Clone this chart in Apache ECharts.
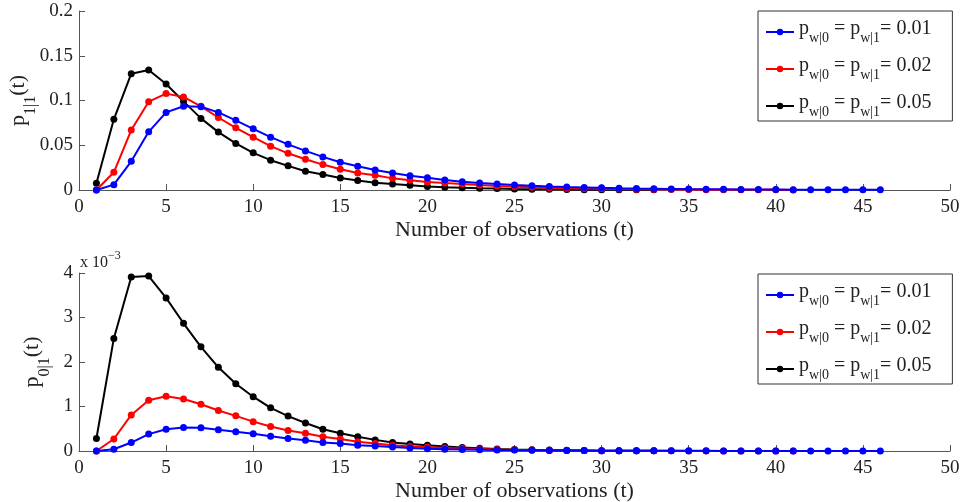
<!DOCTYPE html>
<html><head><meta charset="utf-8">
<script src="https://cdn.jsdelivr.net/npm/echarts@6/dist/echarts.min.js"></script>
<style>html,body{margin:0;padding:0;background:#fff}#c{width:962px;height:502px}</style>
</head><body><div id="c"></div>
<script>
const seriesNames = ['p001', 'p002', 'p005'];
const xTicks = [0, 5, 10, 15, 20, 25, 30, 35, 40, 45, 50];

// top plot: p_{1|1}(t), t = 1..n
const p11_001 = [0, 0.006, 0.032, 0.065, 0.0867, 0.0935, 0.093, 0.0867, 0.0778, 0.0684, 0.059, 0.051, 0.0437, 0.037, 0.031, 0.0265, 0.0224, 0.019, 0.016, 0.0138, 0.0112, 0.0093, 0.0078, 0.0067, 0.0056, 0.0047, 0.004, 0.0034, 0.0029, 0.0024, 0.002, 0.0017, 0.0015, 0.0012, 0.001, 0.0009, 0.0008, 0.0006, 0.0005, 0.0005, 0.0004, 0.0003, 0.0003, 0.0002, 0.0002, 0.0002];
const p11_002 = [0, 0.0198, 0.067, 0.0987, 0.1077, 0.104, 0.0935, 0.081, 0.0695, 0.059, 0.049, 0.041, 0.0344, 0.0284, 0.0232, 0.019, 0.0164, 0.013, 0.011, 0.009, 0.0078, 0.0067, 0.0056, 0.0045, 0.0037, 0.003, 0.0025, 0.002, 0.0016, 0.0013, 0.0011, 0.0009, 0.0007, 0.0006, 0.0005, 0.0004, 0.0003, 0.0003, 0.0002, 0.0002, 0.0001];
const p11_005 = [0.0075, 0.079, 0.130, 0.134, 0.1185, 0.099, 0.080, 0.0647, 0.052, 0.0415, 0.0333, 0.027, 0.021, 0.0172, 0.0135, 0.0105, 0.0082, 0.0066, 0.0052, 0.004, 0.0032, 0.0025, 0.002, 0.0016, 0.0012, 0.0009, 0.0007, 0.0006, 0.0004, 0.0003, 0.0003, 0.0002, 0.0002];

// bottom plot: p_{0|1}(t), t = 1..n
const p01_001 = [0, 0.00004, 0.00019, 0.00038, 0.00049, 0.00053, 0.00052, 0.00048, 0.00043, 0.00039, 0.00033, 0.00028, 0.00024, 0.00019, 0.00017, 0.00013, 0.00011, 0.00009, 0.00007, 0.00005, 0.00004, 0.000035, 0.00003, 0.000025, 0.00002, 0.000017, 0.000014, 0.000012, 0.00001, 0.000008, 0.000007, 0.000006, 0.000005, 0.000004, 0.0000035, 0.000003, 0.0000025, 0.000002, 0.0000017, 0.0000014, 0.0000012, 0.000001, 0.0000008, 0.0000007, 0.0000006, 0.0000005];
const p01_002 = [0, 0.00027, 0.00081, 0.00114, 0.00123, 0.00117, 0.00105, 0.00091, 0.00079, 0.00066, 0.00055, 0.00046, 0.0004, 0.00032, 0.00027, 0.00021, 0.00017, 0.00013, 0.0001, 0.00009, 0.00007, 0.000055, 0.000045, 0.000035, 0.000028, 0.000022, 0.000017, 0.000013, 0.00001, 0.000008, 0.000006, 0.000005, 0.000004, 0.000003, 0.0000023, 0.0000018, 0.0000014, 0.0000011, 0.0000008, 0.0000006, 0.0000005];
const p01_005 = [0.00028, 0.00253, 0.00391, 0.00393, 0.00344, 0.00287, 0.00234, 0.00188, 0.00151, 0.00122, 0.00097, 0.000785, 0.00063, 0.00049, 0.0004, 0.00032, 0.00025, 0.00019, 0.00016, 0.00013, 0.0001, 0.00008, 0.00006, 0.000045, 0.000035, 0.000026, 0.00002, 0.000015, 0.000011, 0.000008, 0.000006, 0.0000045, 0.0000033];

const legendLabels = {p001: '0.01', p002: '0.02', p005: '0.05'};
const colors = ['#0000ff', '#ff0000', '#000000'];

function pts(arr){ return arr.map((v,i)=>[i+1, v]); }

const FONT = 'Liberation Serif';
const axisLineStyle = {color: '#555', width: 1};
function xAxis(gi){
  return {
    type: 'value', gridIndex: gi, min: 0, max: 50, interval: 5,
    axisLine: {show: true, lineStyle: axisLineStyle, onZero: false},
    axisTick: {show: true, inside: true, length: 6, lineStyle: axisLineStyle},
    splitLine: {show: false},
    axisLabel: {fontFamily: FONT, fontSize: 19, color: '#222', margin: 8,
      formatter: v => xTicks.includes(v) ? String(v) : ''},
    name: 'Number of observations (t)', nameLocation: 'middle', nameGap: 29,
    nameTextStyle: {fontFamily: FONT, fontSize: 22, color: '#222'}
  };
}
const subRich = {
  p: {fontFamily: FONT, fontSize: 20, color: '#222', lineHeight: 20, verticalAlign: 'top'},
  s: {fontFamily: FONT, fontSize: 14, color: '#222', lineHeight: 26, verticalAlign: 'bottom'}
};
const nameRich = {
  p: {fontFamily: FONT, fontSize: 22, color: '#222', lineHeight: 22, verticalAlign: 'top'},
  s: {fontFamily: FONT, fontSize: 16, color: '#222', lineHeight: 32, verticalAlign: 'bottom'}
};
function legend(gi, top){
  return {
    data: seriesNames, orient: 'vertical', left: 758, top: top,
    padding: [8, 21, 2, 7], itemGap: 11,
    borderColor: '#333', borderWidth: 1,
    itemWidth: 28, itemHeight: 8,
    formatter: n => '{p|p}{s|w|0}{p| = p}{s|w|1}{p|= ' + legendLabels[n] + '}',
    textStyle: {rich: subRich, padding: [0,0,0,0]}
  };
}

const series = [];
const topData = [p11_001, p11_002, p11_005];
const botData = [p01_001, p01_002, p01_005];
[topData, botData].forEach((set, gi) => {
  set.forEach((arr, k) => {
    series.push({
      name: seriesNames[k], type: 'line', xAxisIndex: gi, yAxisIndex: gi,
      data: pts(arr), symbol: 'circle', symbolSize: 7, showSymbol: true,
      lineStyle: {width: 2, color: colors[k]}, itemStyle: {color: colors[k]},
      animation: false, z: 3 - k
    });
  });
});

const chart = echarts.init(document.getElementById('c'));
chart.setOption({
  backgroundColor: '#fff',
  animation: false,
  grid: [
    {left: 79, right: 12, top: 11, height: 179, containLabel: false, outerBoundsMode: 'none'},
    {left: 79, right: 12, top: 273, height: 178, containLabel: false, outerBoundsMode: 'none'}
  ],
  xAxis: [xAxis(0), xAxis(1)],
  yAxis: [
    {type: 'value', gridIndex: 0, min: 0, max: 0.2, interval: 0.05,
      axisLine: {show: true, lineStyle: axisLineStyle}, axisTick: {show: true, inside: true, length: 6, lineStyle: axisLineStyle},
      splitLine: {show: false},
      axisLabel: {fontFamily: FONT, fontSize: 19, color: '#222', margin: 6},
      name: '{p|p}{s|1|1}{p|(t)}', nameLocation: 'middle', nameGap: 40, nameRotate: 90,
      nameMoveOverlap: false,
      nameTextStyle: {rich: nameRich}},
    {type: 'value', gridIndex: 1, min: 0, max: 0.004, interval: 0.001,
      axisLine: {show: true, lineStyle: axisLineStyle}, axisTick: {show: true, inside: true, length: 6, lineStyle: axisLineStyle},
      splitLine: {show: false},
      axisLabel: {fontFamily: FONT, fontSize: 19, color: '#222', margin: 6, formatter: v => String(Math.round(v * 1000))},
      name: '{p|p}{s|0|1}{p|(t)}', nameLocation: 'middle', nameGap: 26, nameRotate: 90,
      nameMoveOverlap: false,
      nameTextStyle: {rich: nameRich}}
  ],
  legend: [legend(0, 11), legend(1, 274)],
  graphic: [{
    type: 'text', left: 80, top: 247,
    style: {rich: {
      a: {fontFamily: FONT, fontSize: 16, fill: '#222', lineHeight: 24, verticalAlign: 'bottom'},
      b: {fontFamily: FONT, fontSize: 12, fill: '#222', lineHeight: 12, verticalAlign: 'top', padding: [3,0,0,0]}
    }, text: '{a|x 10}{b|\u22123}'}
  }],
  series: series
});
</script>
</body></html>
